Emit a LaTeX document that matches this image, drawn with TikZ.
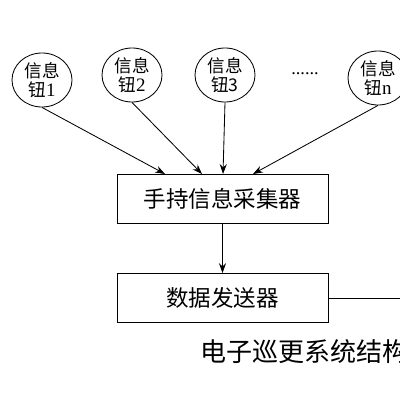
\documentclass[tikz,border=0pt]{standalone}
\usepackage{fontspec}
\setmainfont{Noto Sans CJK SC}
\newfontfamily\lat{Liberation Serif}
\usetikzlibrary{shapes.geometric,arrows.meta}
\tikzset{
  infobtn/.style={draw, ellipse, line width=0.6pt, minimum width=1.5cm, minimum height=1.35cm, inner sep=0pt, align=center, font=\fontsize{12.5}{13.5}\selectfont},
  blockbox/.style={draw, rectangle, line width=0.6pt, minimum width=5.275cm, minimum height=1.225cm, inner sep=0pt, font=\fontsize{16}{18}\selectfont},
  conn/.style={line width=0.6pt, -{Stealth[length=7pt,width=5pt]}},
  plain/.style={line width=0.6pt}
}
\begin{document}
\begin{tikzpicture}[x=0.025cm,y=-0.025cm]
\useasboundingbox (0,0) rectangle (400,400);
\clip (0,0) rectangle (400,400);
\node[infobtn] (c1) at (42,80) {信息\\钮{\lat\fontsize{13.5}{13.5}\selectfont 1}};
\node[infobtn] (c2) at (132,75) {信息\\钮{\lat\fontsize{13.5}{13.5}\selectfont 2}};
\node[infobtn] (c3) at (225,75) {信息\\钮3};
\node[infobtn] (cn) at (378,78) {信息\\钮{\lat\fontsize{13.5}{13.5}\selectfont n}};
\node[font=\fontsize{13}{14}\selectfont] (dots) at (305,74) {{\lat ......}};
\node[blockbox] (b1) at (222.5,198.5) {手持信息采集器};
\node[blockbox] (b2) at (222.5,298) {数据发送器};
\coordinate (t1) at (165,174);
\coordinate (t2) at (202,174);
\coordinate (t3) at (223,174);
\coordinate (tn) at (253,174);
\coordinate (rt) at (401,298);
\draw[conn] (c1.south) -- (t1);
\draw[conn] (c2.south) -- (t2);
\draw[conn] (c3.south) -- (t3);
\draw[conn] (cn.south) -- (tn);
\draw[conn] (b1.south) -- (b2.north);
\draw[plain] (b2.east) -- (rt);
\node[anchor=west, inner sep=0pt, font=\fontsize{18.5}{20}\selectfont] (cap) at (200,352) {电子巡更系统结构};
\end{tikzpicture}
\end{document}
